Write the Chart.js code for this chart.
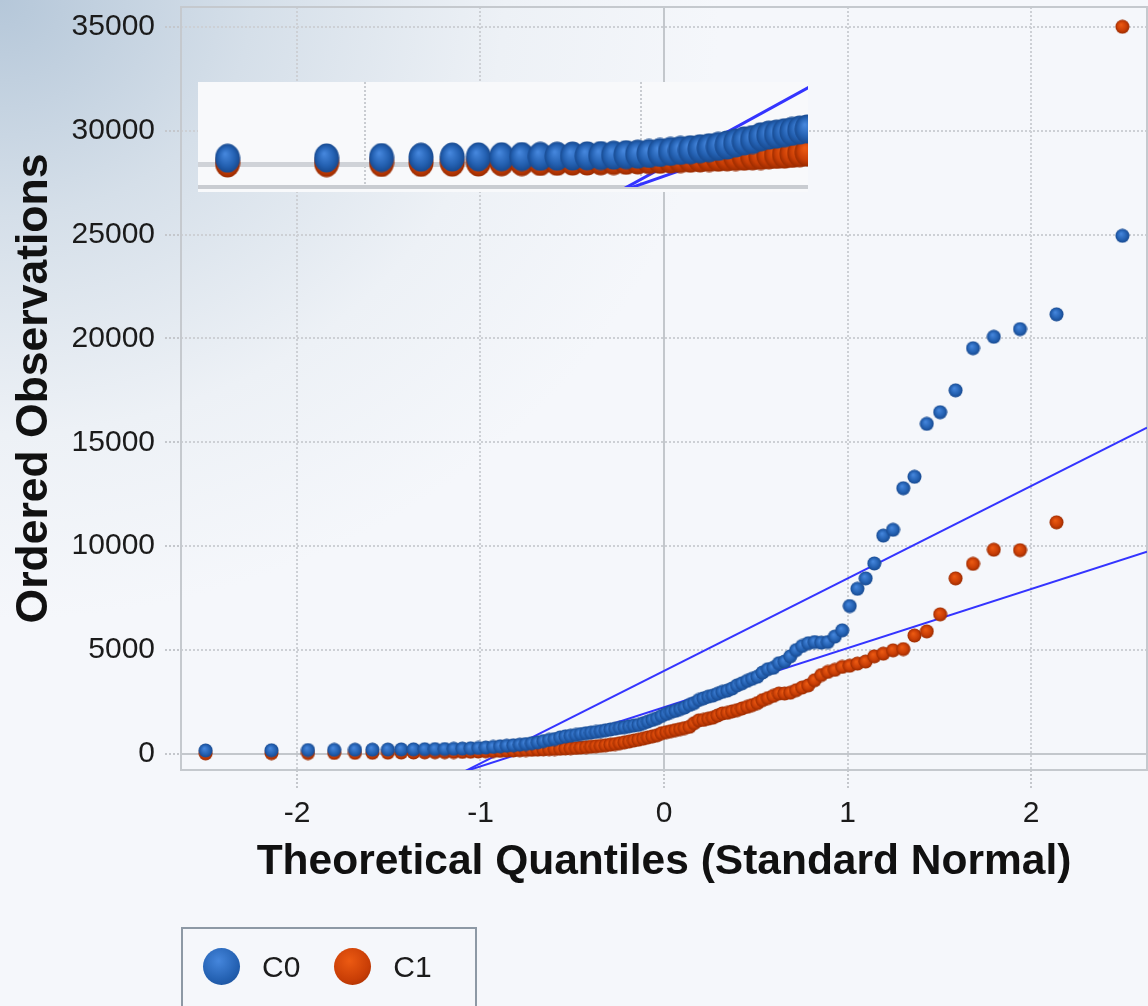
<!DOCTYPE html>
<html>
<head>
<meta charset="utf-8">
<script src="https://cdn.jsdelivr.net/npm/chart.js@4.4.1/dist/chart.umd.min.js"></script>
<style>
html, body { margin: 0; padding: 0; }
body {
  width: 1148px; height: 1006px; overflow: hidden;
  background-color: #f5f7fb;
  background-image: radial-gradient(ellipse 720px 620px at 0 0, #b5c7d9 0%, #d5dfe9 35%, #edf1f6 70%, #f5f7fb 100%);
}
#wrap { position: relative; width: 1148px; height: 1006px; }
#main { position: absolute; left: 0; top: 0; }
#inset { position: absolute; left: 198px; top: 82px; background: #f8f9fb; }
#legend {
  position: absolute; left: 181px; top: 927px; width: 296px; height: 90px;
  border: 2px solid #8d99a5; border-bottom: none;
  padding-top: 19px; box-sizing: border-box;
  font-family: "Liberation Sans", Arial, sans-serif;
  font-size: 30px; color: #1b1b1b;
}
.item { display: inline-flex; align-items: center; height: 37px; vertical-align: top; }
.dot { width: 37px; height: 37px; border-radius: 50%; margin-right: 22px; }
</style>
</head>
<body>
<div id="wrap">
  <canvas id="main" width="1148" height="1006"></canvas>
  <canvas id="inset" width="610" height="110"></canvas>
  <div id="legend"></div>
</div>
<script>
var quantiles = [
  -2.498, -2.139, -1.940, -1.797, -1.684, -1.589, -1.505, -1.432, -1.365, -1.304,
  -1.248, -1.195, -1.146, -1.099, -1.054, -1.012, -0.971, -0.931, -0.893, -0.857,
  -0.821, -0.786, -0.753, -0.720, -0.688, -0.657, -0.626, -0.596, -0.566, -0.537,
  -0.509, -0.480, -0.453, -0.425, -0.398, -0.371, -0.345, -0.318, -0.292, -0.266,
  -0.241, -0.215, -0.190, -0.164, -0.139, -0.113, -0.088, -0.063, -0.038, -0.013,
  0.013, 0.038, 0.063, 0.088, 0.113, 0.139, 0.164, 0.190, 0.215, 0.241,
  0.266, 0.292, 0.318, 0.345, 0.371, 0.398, 0.425, 0.453, 0.480, 0.509,
  0.537, 0.566, 0.596, 0.626, 0.657, 0.688, 0.720, 0.753, 0.786, 0.821,
  0.857, 0.893, 0.931, 0.971, 1.012, 1.054, 1.099, 1.146, 1.195, 1.248,
  1.304, 1.365, 1.432, 1.505, 1.589, 1.684, 1.797, 1.940, 2.139, 2.498
];
// ordered observations
var c0Values = [
  170, 180, 190, 200, 205, 210, 215, 220, 225, 230,
  235, 240, 250, 260, 275, 290, 310, 340, 370, 400,
  420, 450, 480, 520, 560, 620, 680, 720, 800, 850,
  880, 920, 960, 1000, 1030, 1060, 1100, 1140, 1180, 1220,
  1260, 1290, 1330, 1370, 1400, 1480, 1560, 1640, 1720, 1830,
  1930, 2020, 2080, 2160, 2240, 2360, 2450, 2600, 2680, 2760,
  2810, 2900, 2990, 3050, 3150, 3300, 3400, 3520, 3620, 3720,
  3920, 4080, 4150, 4370, 4450, 4700, 5000, 5200, 5330, 5390,
  5360, 5390, 5650, 5950, 7120, 7950, 8450, 9170, 10510, 10790,
  12790, 13340, 15890, 16450, 17500, 19530, 20080, 20450, 21160, 24940
];
var c1Values = [
  30, 40, 45, 50, 55, 60, 65, 70, 75, 80,
  85, 90, 95, 100, 110, 120, 130, 140, 150, 160,
  170, 180, 190, 200, 210, 220, 230, 240, 250, 270,
  280, 290, 310, 330, 350, 370, 390, 420, 450, 480,
  520, 560, 600, 650, 690, 740, 800, 850, 900, 1000,
  1050, 1100, 1150, 1200, 1250, 1310, 1480, 1620, 1640, 1700,
  1750, 1850, 1950, 1980, 2050, 2110, 2190, 2270, 2350, 2450,
  2590, 2690, 2800, 2910, 2910, 2950, 3070, 3200, 3300, 3550,
  3800, 3950, 4050, 4190, 4250, 4350, 4450, 4700, 4830, 4990,
  5050, 5700, 5900, 6720, 8450, 9150, 9830, 9810, 11150, 35000
];
var seriesNames = ['C0', 'C1'];
// reference lines, ends at the x limits
var fitX = [-2.632, 2.632];
var fitC0 = [-7712, 15712];
var fitC1 = [-5238, 9738];
var xTicks = [-2, -1, 0, 1, 2];
var yTicks = [0, 5000, 10000, 15000, 20000, 25000, 30000, 35000];
var insetXTicks = [-2, -1];
var insetYTicks = [0];

var tickFont = '"Liberation Sans", Arial, sans-serif';
var boldFont = '"Liberation Sans", Arial, sans-serif';

function pts(xs, ys) {
  var out = [];
  for (var i = 0; i < xs.length; i++) out.push({x: xs[i], y: ys[i]});
  return out;
}

/*shaded round marker drawn once into a small canvas*/
function makeDot(w, h, light, mid, dark) {
  var c = document.createElement('canvas');
  c.width = w; c.height = h;
  var g = c.getContext('2d');
  g.translate(w / 2, h / 2);
  g.scale(1, h / w);
  var r = w / 2 - 0.5;
  var grad = g.createRadialGradient(-r * 0.2, -r * 0.3, r * 0.05, 0, 0, r);
  grad.addColorStop(0, light);
  grad.addColorStop(0.65, mid);
  grad.addColorStop(1, dark);
  g.fillStyle = grad;
  g.beginPath(); g.arc(0, 0, r, 0, Math.PI * 2); g.fill();
  return c;
}

var blue = ['#4586dc', '#2461b2', '#184a90'];
var red = ['#ec5a12', '#c93e06', '#9a2b00'];

var blueDot = makeDot(15, 15, blue[0], blue[1], blue[2]);
var redDot = makeDot(15, 15, red[0], red[1], red[2]);
var blueBig = makeDot(26, 30, blue[0], blue[1], blue[2]);
var redBig = makeDot(26, 30, red[0], red[1], red[2]);

var framePlugin = {
  id: 'frame',
  beforeDatasetsDraw: function(chart) {
    var a = chart.chartArea, ctx = chart.ctx;
    ctx.save();
    ctx.strokeStyle = '#c5c9ce';
    ctx.lineWidth = 2;
    ctx.strokeRect(a.left, a.top, a.right - a.left, a.bottom - a.top);
    ctx.restore();
  }
};

var isZero = function(c) { return c.tick && c.tick.value === 0; };

new Chart(document.getElementById('main'), {
  type: 'scatter',
  data: {
    datasets: [
      {label: seriesNames[0], data: pts(quantiles, c0Values), pointStyle: blueDot, order: 0},
      {label: seriesNames[1], data: pts(quantiles, c1Values), pointStyle: redDot, order: 1},
      {label: 'fit ' + seriesNames[0], type: 'line', data: pts(fitX, fitC0), borderColor: '#3434ff', borderWidth: 2, pointRadius: 0, order: 2},
      {label: 'fit ' + seriesNames[1], type: 'line', data: pts(fitX, fitC1), borderColor: '#3434ff', borderWidth: 2, pointRadius: 0, order: 3}
    ]
  },
  options: {
    responsive: false,
    animation: false,
    events: [],
    layout: {autoPadding: false, padding: {left: 0, top: 7, right: 1, bottom: 106}},
    plugins: {legend: {display: false}, tooltip: {enabled: false}},
    scales: {
      x: {
        type: 'linear', min: -2.632, max: 2.632,
        afterBuildTicks: function(s) { s.ticks = xTicks.map(function(v) { return {value: v}; }); },
        afterFit: function(s) { s.height = 130; s.paddingLeft = 0; s.paddingRight = 0; },
        grid: {
          color: function(c) { return isZero(c) ? '#c3c7cc' : '#cdd0d5'; },
          lineWidth: 2, tickLength: 20, tickBorderDash: [2, 2], tickColor: '#c4c7cc'
        },
        border: {display: false, dash: function(c) { return isZero(c) ? [] : [2, 2]; }},
        ticks: {
          padding: 6, color: '#1b1b1b', font: {family: tickFont, size: 30},
          callback: function(v) { return v; }
        },
        title: {
          display: true, text: 'Theoretical Quantiles (Standard Normal)', color: '#111',
          font: {family: boldFont, weight: 'bold', size: 42.5}, padding: {top: 0, bottom: 12}
        }
      },
      y: {
        type: 'linear', min: -770, max: 35950,
        afterBuildTicks: function(s) { s.ticks = yTicks.map(function(v) { return {value: v}; }); },
        afterFit: function(s) { s.width = 181; s.paddingTop = 0; s.paddingBottom = 0; },
        grid: {
          color: function(c) { return isZero(c) ? '#c3c7cc' : '#cdd0d5'; },
          lineWidth: 2, tickLength: 16, tickBorderDash: [2, 2], tickColor: '#c4c7cc'
        },
        border: {display: false, dash: function(c) { return isZero(c) ? [] : [2, 2]; }},
        ticks: {
          padding: 10, color: '#1b1b1b', font: {family: tickFont, size: 30},
          callback: function(v) { return v; }
        },
        title: {
          display: true, text: 'Ordered Observations', color: '#111',
          font: {family: boldFont, weight: 'bold', size: 44.5}, padding: {top: 8, bottom: 0}
        }
      }
    }
  },
  plugins: [framePlugin]
});

/*magnified view of the lower left part*/
new Chart(document.getElementById('inset'), {
  type: 'scatter',
  data: {
    datasets: [
      {label: seriesNames[0], data: pts(quantiles, c0Values), pointStyle: blueBig, order: 0},
      {label: seriesNames[1], data: pts(quantiles, c1Values), pointStyle: redBig, order: 1},
      {type: 'line', data: pts(fitX, fitC0), borderColor: '#3434ff', borderWidth: 3, pointRadius: 0, order: 2},
      {type: 'line', data: pts(fitX, fitC1), borderColor: '#3434ff', borderWidth: 3, pointRadius: 0, order: 3}
    ]
  },
  options: {
    responsive: false,
    animation: false,
    events: [],
    layout: {autoPadding: false, padding: 0},
    plugins: {legend: {display: false}, tooltip: {enabled: false}},
    scales: {
      x: {
        type: 'linear', min: -2.605, max: -0.395,
        afterBuildTicks: function(s) { s.ticks = insetXTicks.map(function(v) { return {value: v}; }); },
        afterFit: function(s) { s.height = 5; s.paddingLeft = 0; s.paddingRight = 0; },
        ticks: {display: false},
        grid: {drawTicks: false, color: '#c9ccd1', lineWidth: 2},
        border: {display: true, color: '#c9ccd1', width: 4, dash: [2, 2]}
      },
      y: {
        type: 'linear', min: -676, max: 2412,
        afterBuildTicks: function(s) { s.ticks = insetYTicks.map(function(v) { return {value: v}; }); },
        afterFit: function(s) { s.width = 0; s.paddingTop = 0; s.paddingBottom = 0; },
        ticks: {display: false},
        grid: {drawTicks: false, color: '#d0d3d8', lineWidth: 5},
        border: {display: false}
      }
    }
  }
});

/*legend box*/
var legendColors = [blue, red];
var html = '';
for (var k = 0; k < seriesNames.length; k++) {
  var col = legendColors[k];
  html += '<span class="item" style="margin-left:' + (k === 0 ? 20 : 34) + 'px">' +
    '<span class="dot" style="background: radial-gradient(circle at 42% 35%, ' + col[0] + ' 0%, ' + col[1] + ' 60%, ' + col[2] + ' 100%)"></span>' +
    seriesNames[k] + '</span>';
}
document.getElementById('legend').innerHTML = html;
</script>
</body>
</html>
